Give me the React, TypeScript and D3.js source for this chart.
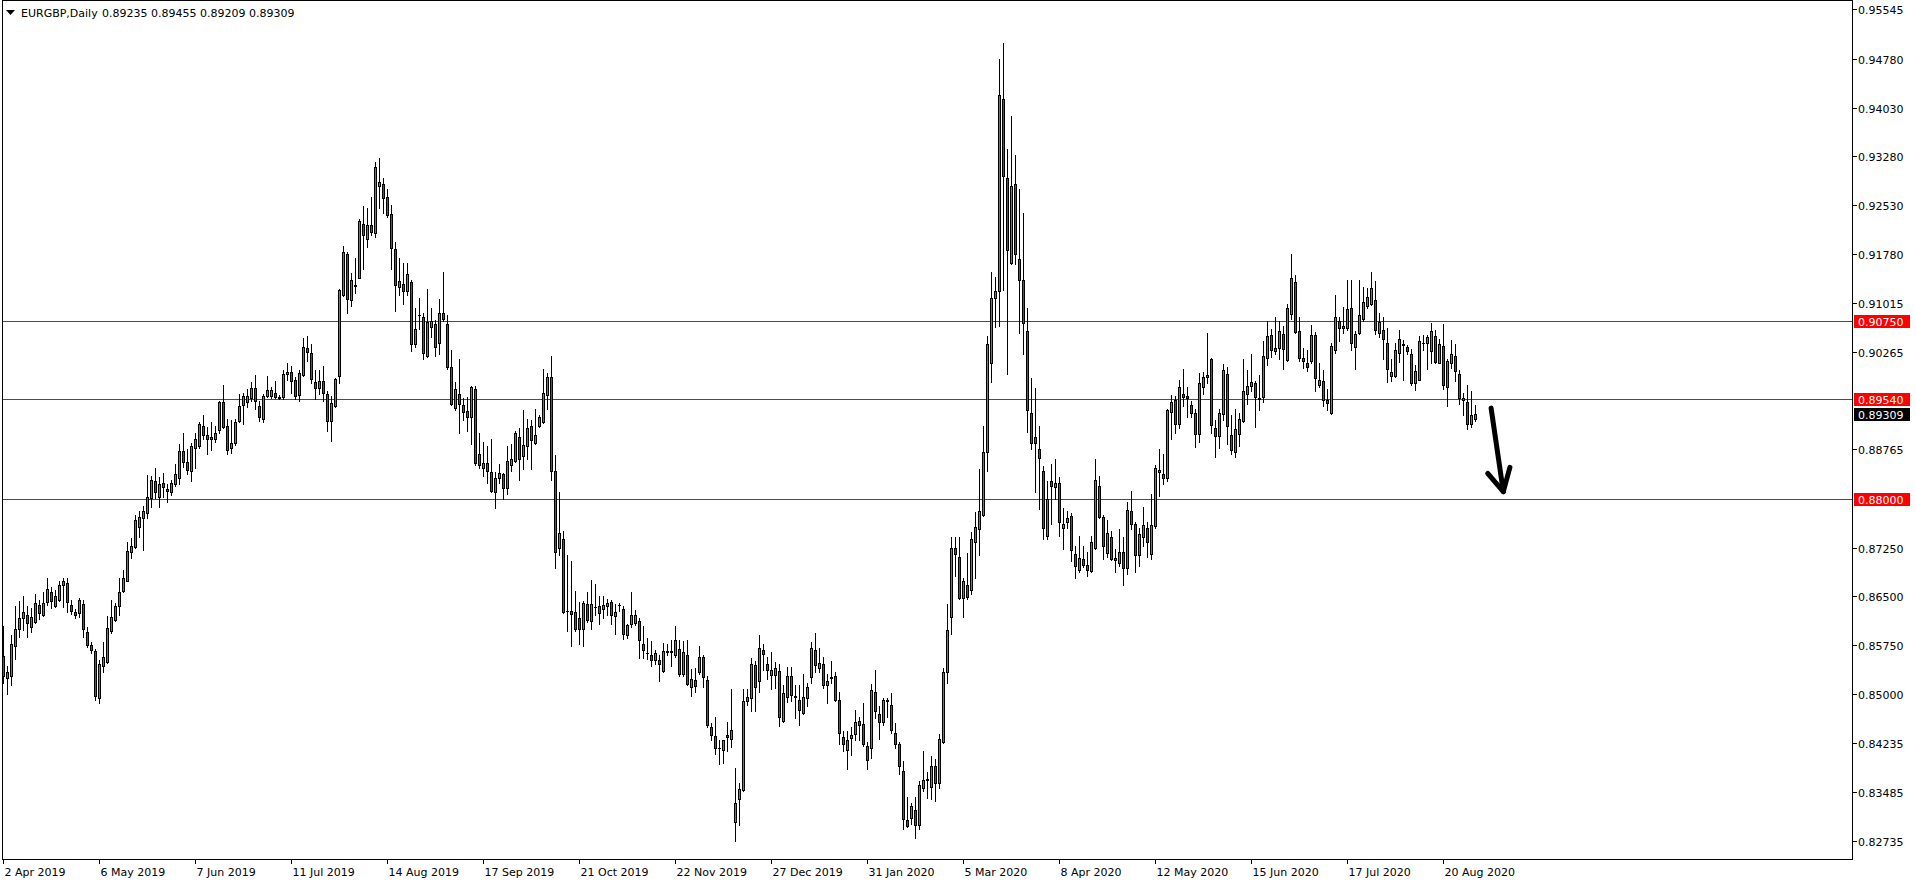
import React from "react";
import * as d3 from "d3";

// EURGBP daily candles, prices in pips (price x 10000)
const OPEN = [
8558,8524,8528,8573,8599,8617,8622,8603,8611,8636,
8622,8642,8657,8635,8644,8667,8670,8636,8626,8625,
8638,8595,8575,8566,8493,8542,8549,8597,8614,8635,
8658,8674,8718,8726,8757,8770,8779,8801,8827,8803,
8824,8816,8811,8823,8833,8874,8857,8843,8878,8881,
8913,8899,8892,8893,8906,8949,8912,8879,8886,8920,
8945,8950,8955,8971,8943,8924,8959,8959,8963,8957,
8957,8992,8995,8983,8960,8991,9032,9025,8981,8971,
8982,8961,8920,8944,8989,9114,9178,9107,9128,9141,
9224,9201,9222,9210,9283,9286,9265,9239,9185,9126,
9132,9121,9135,9039,9083,9081,9021,9065,9070,9041,
9086,9069,9003,8940,8961,8945,8936,8926,8969,8870,
8848,8855,8841,8810,8832,8838,8817,8852,8859,8895,
8866,8881,8912,8886,8912,8919,8960,8988,8843,8724,
8738,8627,8628,8626,8616,8599,8638,8612,8633,8635,
8630,8635,8641,8619,8636,8630,8591,8608,8609,8612,
8577,8562,8559,8552,8552,8535,8565,8566,8559,8569,
8530,8560,8511,8521,8533,8557,8521,8449,8435,8416,
8414,8436,8430,8302,8337,8352,8489,8493,8544,8520,
8568,8545,8529,8529,8535,8458,8495,8528,8495,8490,
8470,8494,8525,8567,8540,8545,8513,8524,8527,8490,
8434,8414,8432,8438,8458,8454,8420,8416,8503,8469,
8456,8490,8482,8440,8422,8381,8305,8308,8321,8297,
8355,8367,8357,8388,8362,8426,8533,8618,8725,8711,
8648,8667,8660,8733,8754,8776,8873,9010,9110,9120,
9417,9295,9164,9285,9170,9137,9059,8933,8895,8877,
8843,8743,8828,8819,8824,8756,8764,8774,8715,8691,
8707,8699,8689,8725,8820,8772,8717,8741,8709,8701,
8719,8694,8782,8762,8714,8741,8755,8715,8758,8841,
8839,8833,8934,8952,8916,8961,8959,8945,8933,8900,
8972,8988,9015,8910,8897,8931,8993,8899,8872,8900,
8920,8961,8974,8979,8955,8957,9018,9052,9028,9033,
9054,9014,9085,9134,9059,9018,9009,9013,9052,8976,
8982,8952,8932,9030,9075,9063,9063,9094,9034,9056,
9077,9097,9100,9107,9055,9061,9040,8990,8990,9025,
9039,9034,9023,8978,8984,9041,9040,9028,9051,9010,
9035,8973,9009,9021,8992,8953,8950,8916,8923.5
];

const HIGH = [
8604,8542,8590,8635,8643,8650,8635,8632,8653,8645,
8657,8679,8665,8660,8674,8679,8679,8645,8630,8647,
8645,8603,8580,8569,8552,8579,8620,8645,8640,8679,
8691,8733,8740,8775,8781,8789,8837,8836,8848,8834,
8840,8823,8829,8854,8885,8901,8877,8886,8902,8919,
8929,8911,8919,8913,8951,8975,8923,8922,8924,8961,
8963,8969,8980,8991,8951,8962,8989,8972,8982,8960,
8999,9009,9005,8988,8999,9048,9051,9039,8998,8999,
9005,8967,8958,8986,9123,9190,9181,9148,9171,9231,
9251,9249,9266,9319,9325,9295,9277,9253,9196,9171,
9163,9163,9137,9095,9110,9086,9123,9095,9076,9108,
9149,9083,9030,8981,9015,8955,8957,8974,8974,8902,
8888,8881,8893,8841,8854,8840,8881,8885,8905,8910,
8937,8924,8922,8939,8930,9000,8994,9021,8868,8810,
8750,8714,8704,8659,8642,8643,8657,8675,8669,8650,
8650,8646,8644,8638,8640,8635,8608,8657,8629,8617,
8604,8586,8581,8567,8559,8578,8577,8582,8604,8582,
8581,8583,8538,8540,8573,8560,8528,8455,8464,8428,
8429,8457,8507,8385,8362,8507,8507,8555,8551,8590,
8576,8557,8564,8549,8545,8513,8541,8541,8513,8513,
8531,8517,8579,8594,8570,8557,8531,8551,8533,8502,
8443,8443,8448,8475,8464,8485,8426,8515,8536,8481,
8493,8494,8501,8455,8426,8396,8341,8331,8341,8366,
8412,8379,8404,8400,8438,8539,8638,8741,8742,8742,
8679,8717,8749,8780,8846,8913,9051,9150,9142,9478,
9502,9340,9390,9330,9277,9241,9094,8986,8971,8912,
8851,8828,8854,8862,8834,8786,8781,8778,8727,8743,
8727,8719,8743,8862,8835,8776,8768,8750,8723,8754,
8742,8796,8813,8764,8756,8788,8765,8807,8852,8877,
8870,8939,8960,8958,8983,9000,8972,8951,8939,8994,
8996,9055,9017,8921,8939,9008,9004,8929,8938,8932,
9015,8998,9024,8982,8991,9043,9075,9062,9081,9075,
9067,9101,9178,9145,9080,9032,9029,9068,9058,9010,
8999,8970,9040,9114,9081,9096,9138,9138,9059,9138,
9126,9125,9150,9136,9087,9080,9064,9015,9041,9060,
9045,9038,9031,9006,9051,9052,9053,9071,9061,9046,
9069,9015,9045,9039,8999,8964,8975,8967,8945.5
];

const LOW = [
8517,8499,8514,8553,8587,8598,8587,8595,8609,8615,
8619,8636,8632,8633,8643,8633,8626,8623,8617,8618,
8587,8572,8563,8491,8485,8534,8547,8593,8612,8621,
8656,8673,8709,8725,8742,8721,8770,8788,8801,8788,
8803,8795,8806,8820,8823,8850,8838,8827,8847,8879,
8892,8869,8875,8888,8902,8909,8870,8871,8883,8919,
8915,8941,8951,8938,8920,8919,8957,8956,8955,8954,
8954,8983,8964,8954,8951,8989,9013,8978,8954,8961,
8951,8904,8890,8941,8978,9113,9087,9097,9118,9140,
9155,9188,9207,9204,9248,9241,9234,9155,9090,9114,
9100,9114,9028,9034,9062,9015,9019,9050,9021,9024,
9075,9000,8945,8937,8902,8921,8905,8884,8853,8848,
8836,8824,8810,8786,8824,8800,8807,8843,8857,8830,
8846,8862,8846,8885,8911,8917,8938,8829,8693,8713,
8624,8597,8573,8597,8576,8574,8611,8600,8621,8607,
8617,8621,8607,8592,8628,8584,8586,8602,8606,8555,
8555,8553,8543,8546,8519,8533,8559,8542,8557,8528,
8528,8513,8497,8502,8530,8511,8449,8428,8407,8392,
8393,8411,8418,8273,8298,8350,8483,8473,8473,8502,
8536,8523,8507,8509,8450,8456,8487,8489,8463,8452,
8469,8481,8517,8533,8533,8509,8485,8517,8489,8422,
8412,8384,8405,8428,8428,8420,8384,8401,8463,8430,
8452,8464,8440,8416,8377,8291,8294,8299,8278,8291,
8350,8339,8337,8335,8355,8424,8517,8592,8681,8646,
8618,8646,8654,8679,8714,8774,8843,8980,9065,9067,
9122,8993,9162,9162,9055,9024,8903,8877,8811,8784,
8738,8738,8762,8800,8743,8723,8756,8705,8679,8687,
8695,8681,8688,8723,8770,8707,8711,8706,8687,8697,
8668,8685,8753,8688,8696,8728,8710,8707,8756,8805,
8823,8827,8893,8902,8909,8944,8927,8927,8880,8888,
8962,8978,8902,8864,8879,8921,8884,8870,8865,8881,
8918,8947,8966,8911,8937,8949,9006,9019,9023,9016,
9000,9012,9077,9056,9013,9002,8997,9010,8966,8973,
8944,8937,8931,9025,9044,9056,9060,9030,9000,9054,
9075,9095,9099,9054,9049,9016,8980,8982,8988,9011,
8983,9024,8975,8968,8983,9030,9000,9010,9010,9009,
8969,8943,9002,8982,8947,8930,8908,8911,8920.9
];

const CLOSE = [
8528,8534,8577,8599,8617,8626,8609,8618,8640,8625,
8640,8661,8643,8650,8668,8674,8642,8628,8621,8645,
8600,8575,8568,8497,8546,8556,8601,8618,8635,8657,
8678,8720,8728,8768,8772,8781,8803,8830,8810,8823,
8818,8813,8824,8839,8874,8857,8844,8881,8892,8915,
8899,8893,8895,8902,8950,8911,8875,8886,8919,8944,
8958,8958,8971,8951,8927,8959,8968,8968,8957,8956,
8992,8996,8982,8958,8994,9034,9027,8985,8971,8982,
8964,8920,8948,8985,9122,9180,9108,9138,9130,9228,
9206,9222,9211,9312,9288,9263,9238,9187,9129,9136,
9121,9146,9039,9062,9084,9025,9072,9074,9034,9086,
9077,9003,8947,8969,8946,8934,8926,8972,8855,8852,
8855,8843,8812,8833,8840,8817,8859,8861,8901,8862,
8883,8910,8891,8899,8926,8963,8988,8843,8719,8747,
8626,8628,8623,8599,8600,8639,8614,8638,8634,8624,
8636,8640,8621,8626,8637,8592,8606,8621,8621,8582,
8568,8563,8552,8562,8545,8566,8566,8565,8582,8531,
8564,8515,8523,8512,8557,8526,8451,8436,8416,8417,
8428,8433,8444,8331,8353,8489,8495,8546,8511,8571,
8561,8536,8537,8540,8464,8501,8527,8498,8496,8475,
8495,8511,8570,8544,8548,8513,8519,8525,8490,8440,
8422,8428,8436,8456,8452,8422,8398,8506,8473,8456,
8490,8489,8444,8422,8389,8307,8296,8327,8297,8359,
8367,8368,8389,8363,8430,8533,8598,8725,8715,8648,
8673,8649,8738,8757,8781,8873,9039,9110,9120,9423,
9297,9184,9283,9178,9137,9071,8937,8887,8887,8863,
8756,8800,8820,8824,8764,8762,8770,8722,8697,8709,
8699,8691,8733,8830,8773,8727,8748,8708,8706,8718,
8694,8783,8761,8714,8746,8760,8734,8760,8848,8844,
8833,8937,8950,8916,8972,8957,8955,8932,8900,8978,
8988,8991,8914,8897,8933,8999,8912,8876,8908,8924,
8966,8974,8981,8957,8954,9020,9051,9030,9032,9059,
9031,9095,9141,9057,9017,9013,9003,9052,8987,8984,
8952,8948,9035,9080,9064,9066,9093,9041,9054,9084,
9103,9111,9125,9061,9072,9047,9001,8995,9029,9047,
9038,9028,8978,8997,9043,9040,9050,9059,9011,9039,
8976,9012,9023,8997,8955,8956,8916,8930,8930.9
];

const SYMBOL = "EURGBP,Daily";
const X_TICK_BARS = [0, 24, 48, 72, 96, 120, 144, 168, 192, 216, 240, 264, 288, 312, 336, 360];
const X_TICK_LABELS = [
  "2 Apr 2019", "6 May 2019", "7 Jun 2019", "11 Jul 2019", "14 Aug 2019", "17 Sep 2019",
  "21 Oct 2019", "22 Nov 2019", "27 Dec 2019", "31 Jan 2020", "5 Mar 2020", "8 Apr 2020",
  "12 May 2020", "15 Jun 2020", "17 Jul 2020", "20 Aug 2020",
];
const Y_TICKS = [
  0.95545, 0.9478, 0.9403, 0.9328, 0.9253, 0.9178, 0.91015, 0.90265,
  0.88765, 0.8725, 0.865, 0.8575, 0.85, 0.84235, 0.83485, 0.82735,
];
const LEVELS = [0.9075, 0.8954, 0.88];
const LAST_PRICE = 0.89309;
// hand-drawn arrow annotation in (bar, price) space
const ARROW_SHAFT: [number, number][] = [[371.9, 0.894], [374.95, 0.88112]];
const ARROW_HEAD: [number, number][] = [[371.05, 0.88395], [374.95, 0.88112], [376.6, 0.88488]];

const W = 1916;
const H = 884;
const FONT = "'DejaVu Sans', Verdana, sans-serif";
const GREEN = "#32a832";
const RED = "#e01b1b";

export default function App() {
  const n = CLOSE.length;
  const x = d3.scaleLinear().domain([0, n - 1]).range([3.5, 3.5 + 4 * (n - 1)]);
  const y = d3.scaleLinear().domain([0.82735, 0.95545]).range([840.7, 9.3]);
  const fmt = d3.format(".5f");
  const P = (v: number) => v / 10000;

  const plotRight = 1852.5;
  const plotBottom = 859.5;

  const candles = d3.range(n).map((i) => {
    const o = P(OPEN[i]);
    const c = P(CLOSE[i]);
    const hi = P(HIGH[i]);
    const lo = P(LOW[i]);
    const cx = x(i);
    const top = Math.round(y(Math.max(o, c)));
    const bot = Math.round(y(Math.min(o, c)));
    const hTop = Math.round(y(hi));
    const hBot = Math.round(y(lo));
    const up = c >= o;
    return (
      <g key={i}>
        <line x1={cx} x2={cx} y1={hTop} y2={hBot + 1} stroke="#000" strokeWidth={1} />
        <rect x={cx - 1.5} y={top} width={3} height={Math.max(1, bot - top + 1)} fill="#000" />
        {bot - top > 1 && (
          <rect x={cx - 0.5} y={top + 1} width={1} height={bot - top - 1} fill={up ? GREEN : RED} />
        )}
      </g>
    );
  });

  const line = d3.line<[number, number]>().x((d) => x(d[0])).y((d) => y(d[1]));

  return (
    <svg
      width={W}
      height={H}
      style={{ position: "absolute", left: 0, top: 0, background: "#fff" }}
      fontFamily={FONT}
    >
      <rect x={0} y={0} width={W} height={H} fill="#fff" />
      <g shapeRendering="crispEdges">
        {/* frame */}
        <line x1={2.5} x2={2.5} y1={0} y2={plotBottom} stroke="#000" />
        <line x1={2} x2={plotRight} y1={0.5} y2={0.5} stroke="#000" />
        <line x1={2} x2={plotRight + 0.5} y1={plotBottom} y2={plotBottom} stroke="#000" />
        <line x1={plotRight} x2={plotRight} y1={0} y2={plotBottom} stroke="#000" />
        {/* level lines */}
        {LEVELS.map((lv) => (
          <line
            key={lv}
            x1={3}
            x2={plotRight - 0.5}
            y1={Math.round(y(lv)) + 0.5}
            y2={Math.round(y(lv)) + 0.5}
            stroke="#ff0000"
            strokeWidth={1}
          />
        ))}
        {candles}
        {/* y ticks */}
        {Y_TICKS.map((t) => (
          <line key={t} x1={plotRight} x2={plotRight + 4} y1={Math.round(y(t)) + 0.5} y2={Math.round(y(t)) + 0.5} stroke="#000" />
        ))}
        {/* x ticks */}
        {X_TICK_BARS.map((b) => (
          <line key={b} x1={x(b)} x2={x(b)} y1={plotBottom} y2={plotBottom + 4} stroke="#000" />
        ))}
      </g>
      {/* y labels */}
      {Y_TICKS.map((t) => (
        <text key={t} x={1858} y={Math.round(y(t)) + 4.5} fontSize={11} fill="#000">
          {fmt(t)}
        </text>
      ))}
      {/* level labels */}
      {LEVELS.map((lv) => {
        const yy = Math.round(y(lv));
        return (
          <g key={lv}>
            <rect x={1854} y={yy - 6} width={56} height={13} fill="#ff0000" shapeRendering="crispEdges" />
            <text x={1858} y={yy + 4.5} fontSize={11} fill="#fff">{fmt(lv)}</text>
          </g>
        );
      })}
      {(() => {
        const yy = Math.round(y(LAST_PRICE));
        return (
          <g>
            <rect x={1854} y={yy - 6} width={56} height={13} fill="#000" shapeRendering="crispEdges" />
            <text x={1858} y={yy + 4.5} fontSize={11} fill="#fff">{fmt(LAST_PRICE)}</text>
          </g>
        );
      })()}
      {/* x labels */}
      {X_TICK_BARS.map((b, k) => (
        <text key={b} x={x(b) + 1} y={876} fontSize={11} fill="#000">
          {X_TICK_LABELS[k]}
        </text>
      ))}
      {/* header */}
      <polygon points="6,10 15,10 10.5,15" fill="#000" />
      <text x={21} y={17} fontSize={11} fill="#000">{SYMBOL}</text>
      <text x={102} y={17} fontSize={11} fill="#000">
        {[OPEN[n - 1], HIGH[n - 1], LOW[n - 1], CLOSE[n - 1]].map((v) => fmt(P(v))).join(" ")}
      </text>
      {/* arrow */}
      <path d={line(ARROW_SHAFT) || ""} stroke="#000" strokeWidth={5} fill="none" strokeLinecap="round" />
      <path d={line(ARROW_HEAD) || ""} stroke="#000" strokeWidth={5} fill="none" strokeLinecap="round" strokeLinejoin="round" />
    </svg>
  );
}
